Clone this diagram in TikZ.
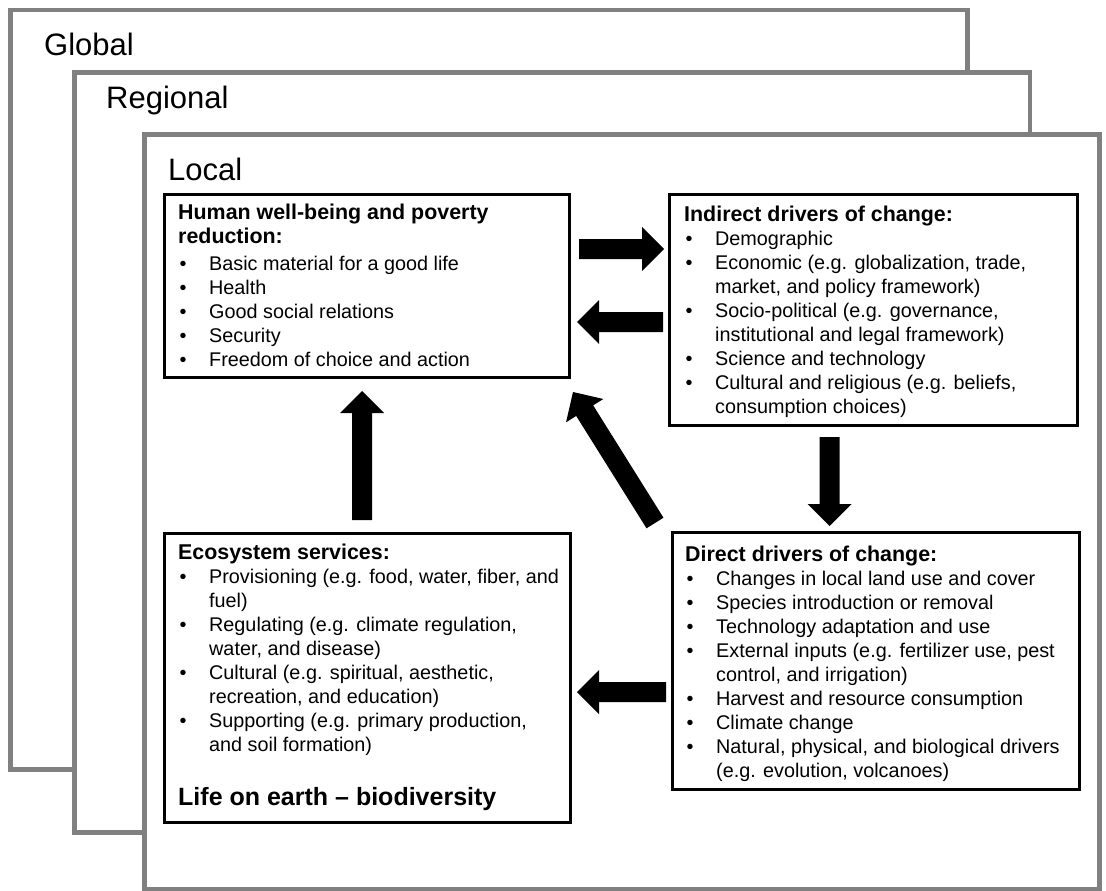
\documentclass[tikz,border=0pt]{standalone}
\usepackage{fontspec}
\setmainfont{Liberation Sans}
\usetikzlibrary{calc}
\definecolor{framegray}{HTML}{808080}
\tikzset{
  frame/.style={draw=framegray, line width=4.5pt, fill=white},
  box/.style={draw=black, line width=3pt, fill=white, rectangle, inner sep=0pt, outer sep=0pt, anchor=north west},
  boxtext/.style={anchor=base west, inner sep=0pt, align=left, font=\fontsize{19.8}{24}\selectfont},
  scalelabel/.style={anchor=base west, inner sep=0pt, font=\fontsize{31}{36}\selectfont},
  arrowfill/.style={fill=black},
}
\newcommand\bl{\makebox[31pt][l]{\hspace{1.5pt}•}}
\newcommand\ct{\makebox[31pt]{}}
\newcommand\ttl[1]{{\fontsize{21.4}{24}\selectfont\bfseries #1}}
\newcommand\fatarrow[2]{%
  \path let \p1=(#1), \p2=(#2) in
    \pgfextra{%
      \pgfmathsetmacro\faang{atan2((\y2)-(\y1),(\x2)-(\x1))}%
      \pgfmathsetmacro\falen{veclen((\x2)-(\x1),(\y2)-(\y1))}%
      \pgfmathsetmacro\fabase{\falen-22}%
      \xdef\faang{\faang}\xdef\falen{\falen}\xdef\fabase{\fabase}};
  \begin{scope}[shift={(#1)},rotate=\faang]
    \fill[arrowfill] (0pt,-10pt) -- (\fabase pt,-10pt) -- (\fabase pt,-22pt) -- (\falen pt,0pt)
      -- (\fabase pt,22pt) -- (\fabase pt,10pt) -- (0pt,10pt) -- cycle;
  \end{scope}}

\begin{document}
\begin{tikzpicture}[x=1pt,y=-1pt]
\useasboundingbox (0,0) rectangle (1106,891);
\fill[white] (0,0) rectangle (1106,891);

% scale frames
\draw[frame] (10.5,10) rectangle (967.5,769.5);
\node[scalelabel] (lglobal) at (44,56) {Global};
\draw[frame] (74.5,72.5) rectangle (1030,832.5);
\node[scalelabel] (lregional) at (106,108) {Regional};
\draw[frame] (144.5,134.5) rectangle (1099.5,889);
\node[scalelabel] (llocal) at (168,180) {Local};

% boxes
\node[box, minimum width=405pt, minimum height=183pt] (human) at (164,194) {};
\node[box, minimum width=408pt, minimum height=231pt] (indirect) at (669,194) {};
\node[box, minimum width=407pt, minimum height=257pt] (direct) at (672,532) {};
\node[box, minimum width=406pt, minimum height=289pt] (eco) at (164,533) {};

% texts
\node[boxtext] (humantxt) at ($(human.north west)+(14,25)$) {%
\begin{tabular}[t]{@{}l@{}}
\ttl{Human well-being and poverty}\\
\ttl{reduction:}\\[3pt]
\bl Basic material for a good life\\
\bl Health\\
\bl Good social relations\\
\bl Security\\
\bl Freedom of choice and action
\end{tabular}};

\node[boxtext] (indirecttxt) at ($(indirect.north west)+(15,27)$) {%
\begin{tabular}[t]{@{}l@{}}
\ttl{Indirect drivers of change:}\\
\bl Demographic\\
\bl Economic (e.g. globalization, trade,\\
\ct market, and policy framework)\\
\bl Socio-political (e.g. governance,\\
\ct institutional and legal framework)\\
\bl Science and technology\\
\bl Cultural and religious (e.g. beliefs,\\
\ct consumption choices)
\end{tabular}};

\node[boxtext] (directtxt) at ($(direct.north west)+(13,29)$) {%
\begin{tabular}[t]{@{}l@{}}
\ttl{Direct drivers of change:}\\
\bl Changes in local land use and cover\\
\bl Species introduction or removal\\
\bl Technology adaptation and use\\
\bl External inputs (e.g. fertilizer use, pest\\
\ct control, and irrigation)\\
\bl Harvest and resource consumption\\
\bl Climate change\\
\bl Natural, physical, and biological drivers\\
\ct (e.g. evolution, volcanoes)
\end{tabular}};

\node[boxtext] (ecotxt) at ($(eco.north west)+(14,26)$) {%
\begin{tabular}[t]{@{}l@{}}
\ttl{Ecosystem services:}\\
\bl Provisioning (e.g. food, water, fiber, and\\
\ct fuel)\\
\bl Regulating (e.g. climate regulation,\\
\ct water, and disease)\\
\bl Cultural (e.g. spiritual, aesthetic,\\
\ct recreation, and education)\\
\bl Supporting (e.g. primary production,\\
\ct and soil formation)
\end{tabular}};
\node[anchor=base west, inner sep=0pt, font=\fontsize{25}{30}\selectfont\bfseries] (life)
  at ($(eco.north west)+(14,272)$) {Life on earth -- biodiversity};

% arrow end points
\coordinate (a1s) at ($(human.north east)+(10,55)$);
\coordinate (a1e) at ($(indirect.north west)+(-5,55)$);
\coordinate (a2s) at ($(indirect.north west)+(-6,128)$);
\coordinate (a2e) at ($(human.north east)+(8,128)$);
\coordinate (a3s) at ($(indirect.south)+(-43.5,12)$);
\coordinate (a3e) at ($(direct.north)+(-46,-6)$);
\coordinate (a4s) at ($(eco.north)+(-5,-13)$);
\coordinate (a4e) at ($(human.south)+(-4.5,14)$);
\coordinate (a5s) at ($(direct.north west)+(-17,-9)$);
\coordinate (a5e) at ($(human.south east)+(4,15)$);
\coordinate (a6s) at ($(direct.west)+(-6,31.5)$);
\coordinate (a6e) at ($(eco.east)+(7,14.5)$);

\fatarrow{a1s}{a1e}
\fatarrow{a2s}{a2e}
\fatarrow{a3s}{a3e}
\fatarrow{a4s}{a4e}
\fatarrow{a5s}{a5e}
\fatarrow{a6s}{a6e}
\end{tikzpicture}
\end{document}
